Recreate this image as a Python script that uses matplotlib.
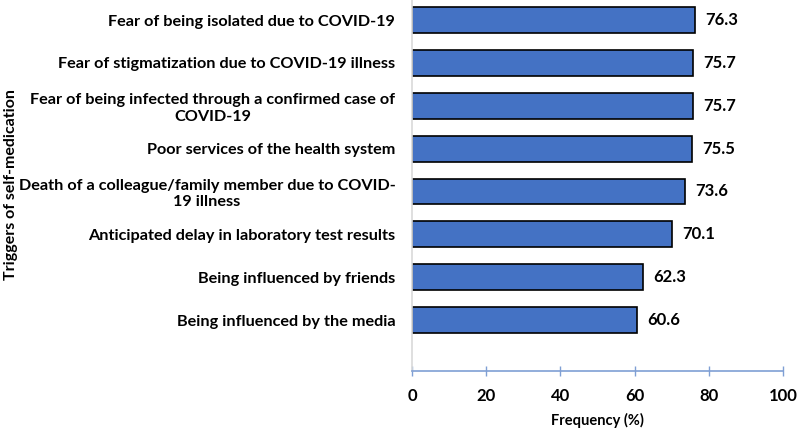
import matplotlib
matplotlib.use("Agg")
import matplotlib.pyplot as plt

categories = [
    "Fear of being isolated due to COVID-19",
    "Fear of stigmatization due to COVID-19 illness",
    "Fear of being infected through a confirmed case of\nCOVID-19",
    "Poor services of the health system",
    "Death of a colleague/family member due to COVID-\n19 illness",
    "Anticipated delay in laboratory test results",
    "Being influenced by friends",
    "Being influenced by the media",
]
values = [76.3, 75.7, 75.7, 75.5, 73.6, 70.1, 62.3, 60.6]
xticks = [0, 20, 40, 60, 80, 100]

plt.rcParams['font.family'] = ['Lato', 'DejaVu Sans']
plt.rcParams['font.weight'] = 'bold'

fig = plt.figure(figsize=(7.99, 4.30), dpi=100)
ax = fig.add_axes([412/799, 1-371/430, (783-412)/799, 371/430])

n = len(categories)
ypos = [n - 1 - i for i in range(n)]
ax.barh(ypos, values, height=0.6, color='#4472C4', edgecolor='black', linewidth=1.2)
for y, v in zip(ypos, values):
    ax.text(v + 2.8, y, f"{v:.1f}", va='center', ha='left', fontsize=12, fontweight='bold')

ax.set_xlim(0, 100)
ax.set_ylim(-1.19, n - 1 + 0.47)
ax.set_yticks(ypos)
ax.set_yticklabels(categories, fontsize=11.7, fontweight='bold', multialignment='center')
ax.tick_params(axis='y', length=0, pad=12)
ax.set_xticks(xticks)
ax.set_xticklabels([str(t) for t in xticks], fontsize=12, fontweight='bold')
ax.tick_params(axis='x', direction='inout', length=7, width=1, color='#7F9FD4', pad=9)

for s in ['top', 'right']:
    ax.spines[s].set_visible(False)
ax.spines['left'].set_color('#D9D9D9')
ax.spines['left'].set_linewidth(1.2)
ax.spines['bottom'].set_color('#7F9FD4')
ax.spines['bottom'].set_linewidth(1.2)

ax.set_xlabel("Frequency (%)", fontsize=10.5, fontweight='bold', labelpad=6)
fig.text(11/799, 1-185/430, "Triggers of self-medication", rotation=90, va='center', ha='center',
         fontsize=11.5, fontweight='bold')

fig.savefig("out.png", dpi=100)
